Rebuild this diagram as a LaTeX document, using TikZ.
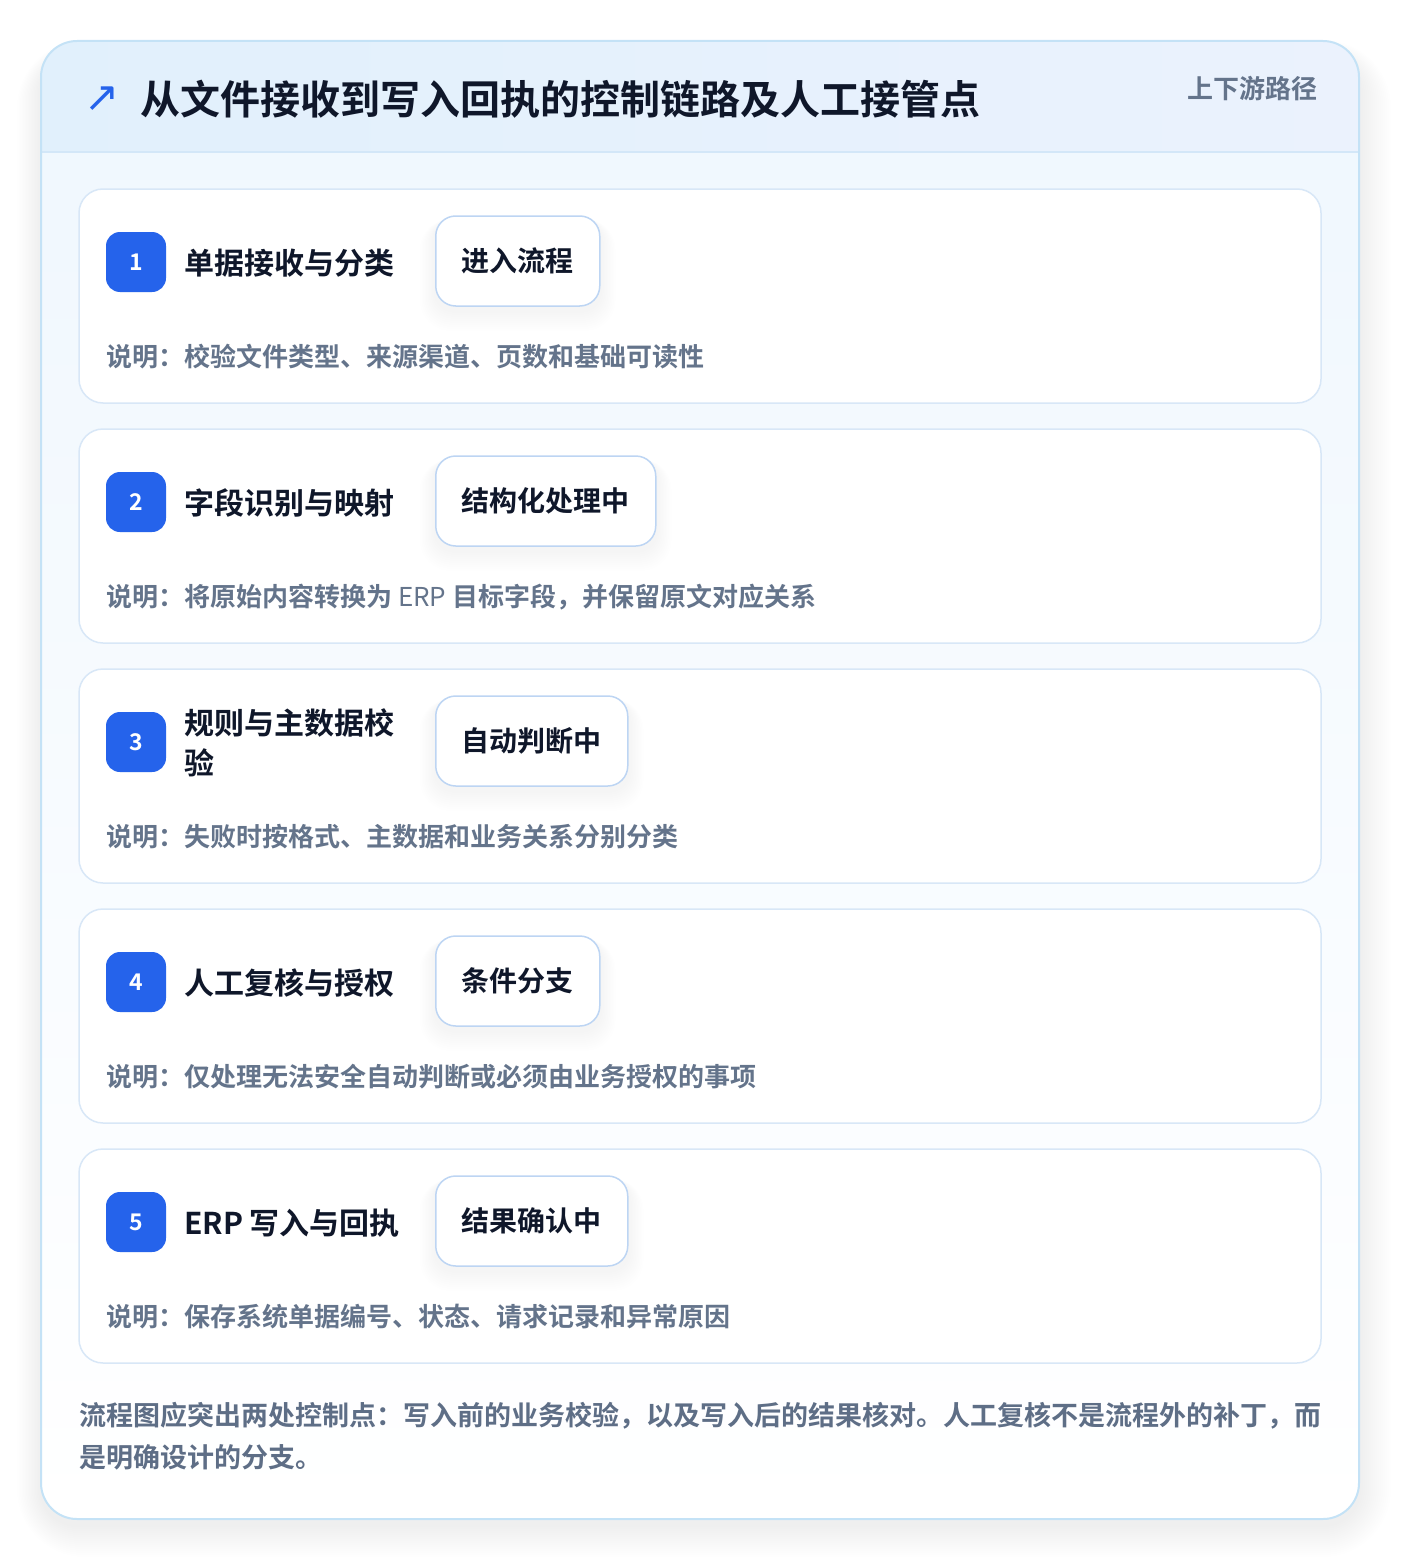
\documentclass[tikz,border=0pt]{standalone}
\usepackage{fontspec}
\setmainfont{Noto Sans CJK SC}[BoldFont=* Bold]
\newfontfamily\symfont{DejaVu Sans}
\usetikzlibrary{positioning}

\definecolor{frameline}{HTML}{C4E2F6}
\definecolor{headL}{HTML}{E1F0FC}
\definecolor{headR}{HTML}{EBF2FD}
\definecolor{headline}{HTML}{D3E7F8}
\definecolor{bodytop}{HTML}{EFF7FE}
\definecolor{cardline}{HTML}{D8E7F7}
\definecolor{pillline}{HTML}{BDD5F3}
\definecolor{badgeblue}{HTML}{2563EB}
\definecolor{ink}{HTML}{0F172A}
\definecolor{slate}{HTML}{64748B}
\definecolor{footink}{HTML}{5E6E86}

\pgfdeclarelayer{back}
\pgfdeclarelayer{shade}
\pgfsetlayers{back,shade,main}

\begin{document}
\begin{tikzpicture}[x=1pt,y=-1pt,
    badge/.style={fill=badgeblue, text=white, rounded corners=14pt, minimum size=60pt,
        inner sep=0pt, font=\fontsize{23}{26}\selectfont\bfseries},
    steptitle/.style={anchor=west, inner sep=0pt, align=left, text=ink,
        font=\fontsize{30}{40}\selectfont\bfseries},
    tagpill/.style={anchor=west, draw=pillline, line width=1.5pt, fill=white,
        rounded corners=20pt, minimum height=90pt, inner xsep=26pt, text=ink,
        font=\fontsize{28}{32}\selectfont\bfseries},
    stepnote/.style={anchor=west, inner sep=0pt, text=slate,
        font=\fontsize{26}{30}\selectfont\bfseries}]

    \useasboundingbox (0,0) rectangle (1400,1560);

    \begin{pgfonlayer}{back}
        % soft shadow of the frame
        \foreach \k in {1,...,16}
            \fill[black, opacity=0.004, rounded corners={36pt+2pt*\k}]
                (41-1.5*\k, 56-\k) rectangle (1359+2*\k, 1525+2*\k);

        % frame and header
        \fill[top color=bodytop, bottom color=white, rounded corners=36pt]
            (41,41) rectangle (1359,1519);
        \begin{scope}
            \clip[rounded corners=36pt] (41,41) rectangle (1359,1519);
            \shade[left color=headL, right color=headR] (41,41) rectangle (1359,152);
        \end{scope}
        \draw[headline, line width=1.5pt] (42,152) -- (1358,152);
        \draw[frameline, line width=2pt, rounded corners=36pt] (41,41) rectangle (1359,1519);

        % step cards
        \foreach \i in {0,...,4}
            \draw[cardline, line width=1.5pt, fill=white, rounded corners=24pt]
                (79,189+240*\i) rectangle (1321,403+240*\i);
    \end{pgfonlayer}

    % header
    \node[inner sep=0pt, text=badgeblue, font=\symfont\fontsize{42}{42}\selectfont] (icon) at (102,99) {↗};
    \node[anchor=west, inner sep=0pt, text=ink, font=\fontsize{40}{44}\selectfont\bfseries]
        (title) at (140,99) {从文件接收到写入回执的控制链路及人工接管点};
    \node[anchor=east, inner sep=0pt, text=slate, font=\fontsize{26}{30}\selectfont\bfseries]
        (scope) at (1318,89) {上下游路径};

    % steps
    \foreach \i/\name/\tag/\note in {
        1/{单据接收与分类}/{进入流程}/{说明：校验文件类型、来源渠道、页数和基础可读性},
        2/{字段识别与映射}/{结构化处理中}/{说明：将原始内容转换为 {\mdseries ERP} 目标字段，并保留原文对应关系},
        3/{规则与主数据校\\验}/{自动判断中}/{说明：失败时按格式、主数据和业务关系分别分类},
        4/{人工复核与授权}/{条件分支}/{说明：仅处理无法安全自动判断或必须由业务授权的事项},
        5/{ERP 写入与回执}/{结果确认中}/{说明：保存系统单据编号、状态、请求记录和异常原因}} {
        \pgfmathsetmacro{\top}{189+240*(\i-1)}
        \node[badge] (badge\i) at (136,\top+73) {\i};
        \node[steptitle] (name\i) at (184,\top+74) {\name};
        \node[tagpill] (tag\i) at (435,\top+72) {\tag};
        \node[stepnote] (note\i) at (106,\top+168) {\note};
        \begin{pgfonlayer}{shade}
            \foreach \k in {1,...,10}
                \fill[black, opacity=0.004, rounded corners={20pt+\k pt}]
                    ([shift={(-1.5*\k,4)}]tag\i.north west) rectangle ([shift={(1.5*\k,4+2*\k)}]tag\i.south east);
        \end{pgfonlayer}
    }

    % closing remark
    \node[anchor=north west, inner sep=0pt, align=left, text=footink,
        font=\fontsize{27}{42}\selectfont\bfseries] (remark) at (79,1402)
        {流程图应突出两处控制点：写入前的业务校验，以及写入后的结果核对。人工复核不是流程外的补丁，而\\是明确设计的分支。};

\end{tikzpicture}
\end{document}
